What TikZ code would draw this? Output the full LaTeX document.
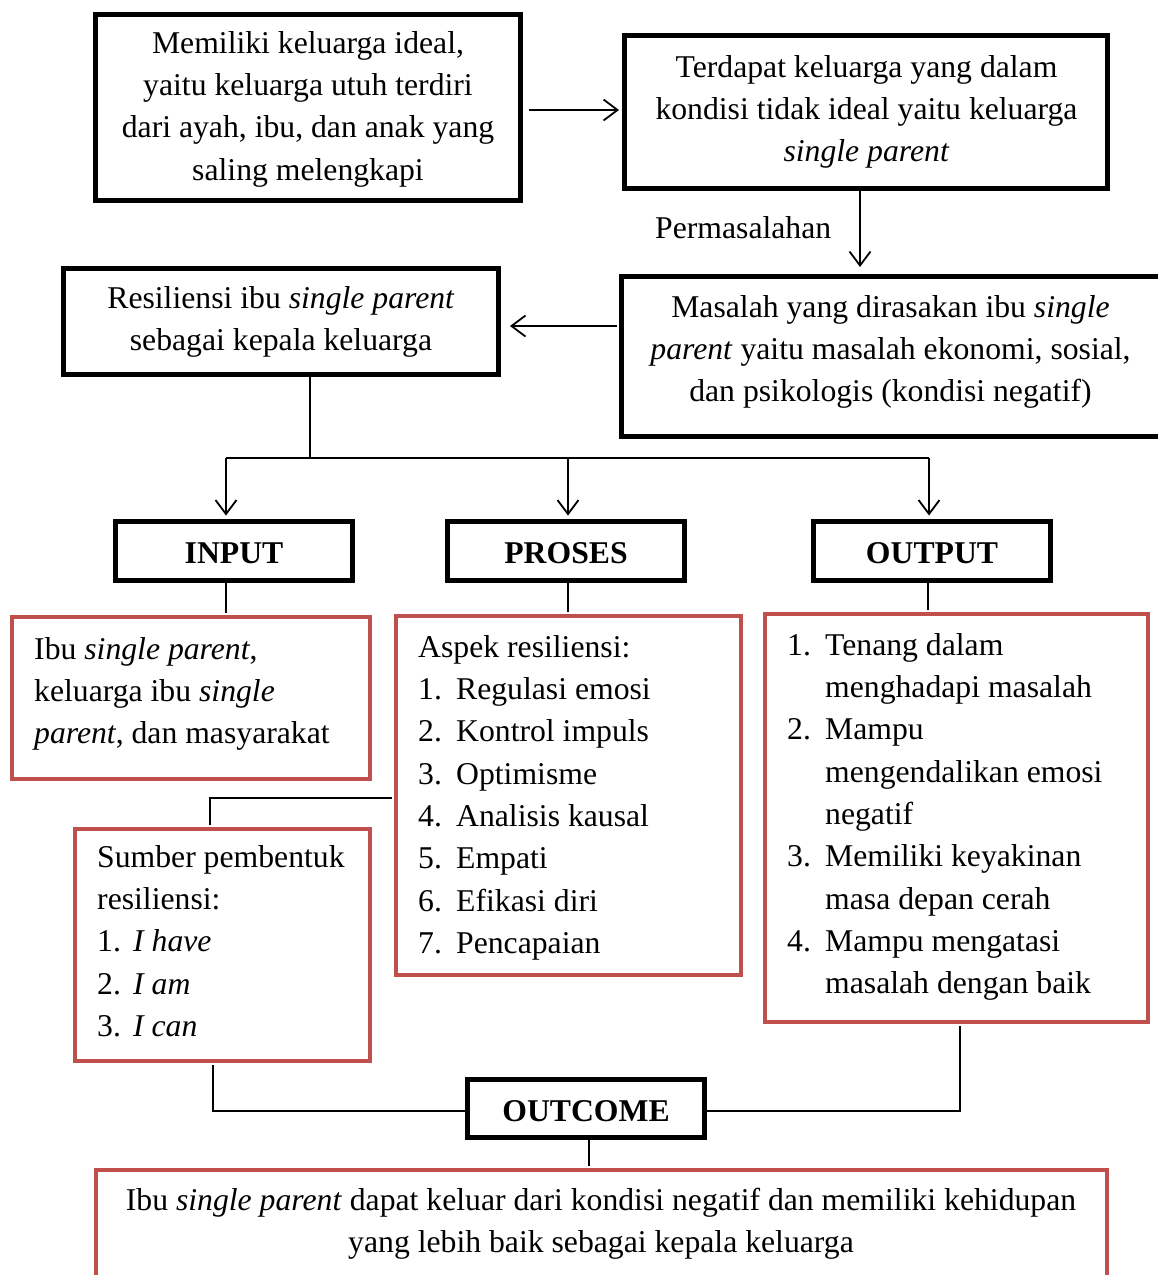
\documentclass[tikz,border=0pt]{standalone}
\usepackage{fontspec}
\setmainfont{Liberation Serif}
\usetikzlibrary{arrows.meta}
\definecolor{boxred}{HTML}{C0504D}
\newcommand\fz{\fontsize{31.7}{42.3}\selectfont}
\newcommand\nm[1]{\makebox[38pt][l]{#1}}
\newcommand\ind{\hspace*{38pt}}
\begin{document}
\begin{tikzpicture}[x=1pt,y=-1pt,
  bbox/.style={draw=black, line width=5pt, inner sep=0pt, rectangle},
  rbox/.style={draw=boxred, line width=4pt, inner sep=0pt, rectangle},
  txt/.style={inner sep=0pt, font=\fz},
  conn/.style={draw=black, line width=1.8pt},
  arr/.style={conn, -{Straight Barb[length=14pt,width=21pt,line width=1.8pt]}}]
\useasboundingbox (0,0) rectangle (1158,1275);

% boxes
\node[bbox, minimum width=425, minimum height=186] (A) at (308,107.5) {};
\node[bbox, minimum width=483, minimum height=153] (B) at (866,112) {};
\node[bbox, minimum width=548.5, minimum height=160] (C) at (895.75,356.5) {};
\node[bbox, minimum width=435, minimum height=106] (D) at (281,321.5) {};
\node[bbox, minimum width=237, minimum height=59] (IN) at (234,551) {};
\node[bbox, minimum width=237, minimum height=59] (PR) at (566,551) {};
\node[bbox, minimum width=237, minimum height=59] (OU) at (932,551) {};
\node[bbox, minimum width=237, minimum height=58] (OC) at (586,1108.5) {};
\node[rbox, minimum width=358, minimum height=162] (InR) at (191,698) {};
\node[rbox, minimum width=345, minimum height=359] (ProR) at (568.5,795.5) {};
\node[rbox, minimum width=383, minimum height=408] (OutR) at (956.5,818) {};
\node[rbox, minimum width=295, minimum height=232] (SumR) at (222.5,945) {};
\node[rbox, minimum width=1011, minimum height=120] (FinR) at (601.5,1230) {};

% texts
\node[txt, anchor=north, align=center] (tA) at (308,23.4)
  {\strut Memiliki keluarga ideal,\\ yaitu keluarga utuh terdiri\\ dari ayah, ibu, dan anak yang\\ saling melengkapi};
\node[txt, anchor=north, align=center] (tB) at (866.5,47.4)
  {\strut Terdapat keluarga yang dalam\\ kondisi tidak ideal yaitu keluarga\\ \textit{single parent}};
\node[txt, anchor=north, align=center] (tC) at (890.5,287.4)
  {\strut Masalah yang dirasakan ibu \textit{single}\\ \textit{parent} yaitu masalah ekonomi, sosial,\\ dan psikologis (kondisi negatif)};
\node[txt, anchor=north, align=center] (tD) at (281,278.4)
  {\strut Resiliensi ibu \textit{single parent}\\ sebagai kepala keluarga};
\node[txt, anchor=base west] (perm) at (655,238) {Permasalahan};
\node[txt, anchor=base, font=\fz\bfseries] (tIN) at (234,563) {INPUT};
\node[txt, anchor=base, font=\fz\bfseries] (tPR) at (566,563) {PROSES};
\node[txt, anchor=base, font=\fz\bfseries] (tOU) at (932,563) {OUTPUT};
\node[txt, anchor=base, font=\fz\bfseries] (tOC) at (586,1121) {OUTCOME};
\node[txt, anchor=north west, align=left] (tInR) at (34,629.4)
  {\strut Ibu \textit{single parent},\\ keluarga ibu \textit{single}\\ \textit{parent}, dan masyarakat};
\node[txt, anchor=north west, align=left] (tProR) at (418,627.4)
  {\strut Aspek resiliensi:\\ \nm{1.}Regulasi emosi\\ \nm{2.}Kontrol impuls\\ \nm{3.}Optimisme\\
   \nm{4.}Analisis kausal\\ \nm{5.}Empati\\ \nm{6.}Efikasi diri\\ \nm{7.}Pencapaian};
\node[txt, anchor=north west, align=left] (tOutR) at (787,625.4)
  {\strut\nm{1.}Tenang dalam\\ \ind menghadapi masalah\\ \nm{2.}Mampu\\ \ind mengendalikan emosi\\ \ind negatif\\
   \nm{3.}Memiliki keyakinan\\ \ind masa depan cerah\\ \nm{4.}Mampu mengatasi\\ \ind masalah dengan baik};
\node[txt, anchor=north west, align=left] (tSumR) at (97,837.4)
  {\strut Sumber pembentuk\\ resiliensi:\\ \makebox[36pt][l]{1.}\textit{I have}\\ \makebox[36pt][l]{2.}\textit{I am}\\ \makebox[36pt][l]{3.}\textit{I can}};
\node[txt, anchor=north, align=center] (tFin) at (601,1180.4)
  {\strut Ibu \textit{single parent} dapat keluar dari kondisi negatif dan memiliki kehidupan\\ yang lebih baik sebagai kepala keluarga};

% connectors
\coordinate (yAB) at (0,110);
\draw[arr, shorten <=6pt, shorten >=3pt] (A.east |- yAB) -- (B.west |- yAB);
\coordinate (xBC) at (860,0);
\draw[arr, shorten >=7pt] (B.south -| xBC) -- (C.north -| xBC);
\coordinate (yCD) at (0,326);
\draw[arr, shorten <=2pt, shorten >=9pt] (C.west |- yCD) -- (D.east |- yCD);
\coordinate (br) at (310,458);
\coordinate (bL) at (226,458);
\coordinate (bM) at (568,458);
\coordinate (bR) at (929,458);
\draw[conn] (D.south -| br) -- (br);
\draw[conn] (bL) -- (bR);
\draw[arr, shorten >=3.5pt] (bL) -- (bL |- IN.north);
\draw[arr, shorten >=3.5pt] (bM) -- (bM |- PR.north);
\draw[arr, shorten >=3.5pt] (bR) -- (bR |- OU.north);
\draw[conn, shorten >=2pt] (IN.south -| bL) -- (InR.north -| bL);
\draw[conn, shorten >=2pt] (PR.south -| bM) -- (ProR.north -| bM);
\coordinate (xOU) at (928,0);
\draw[conn, shorten >=2pt] (OU.south -| xOU) -- (OutR.north -| xOU);
\coordinate (ps) at (210,798);
\draw[conn, shorten <=2pt, shorten >=2pt] (ProR.west |- ps) -- (ps) -- (SumR.north -| ps);
\coordinate (so) at (213,1111);
\draw[conn, shorten <=2pt] (SumR.south -| so) -- (so) -- (OC.west |- so);
\coordinate (oo) at (960,1111);
\draw[conn, shorten <=2pt] (OutR.south -| oo) -- (oo) -- (OC.east |- oo);
\coordinate (of) at (589,0);
\draw[conn, shorten >=2pt] (OC.south -| of) -- (FinR.north -| of);
\end{tikzpicture}
\end{document}
